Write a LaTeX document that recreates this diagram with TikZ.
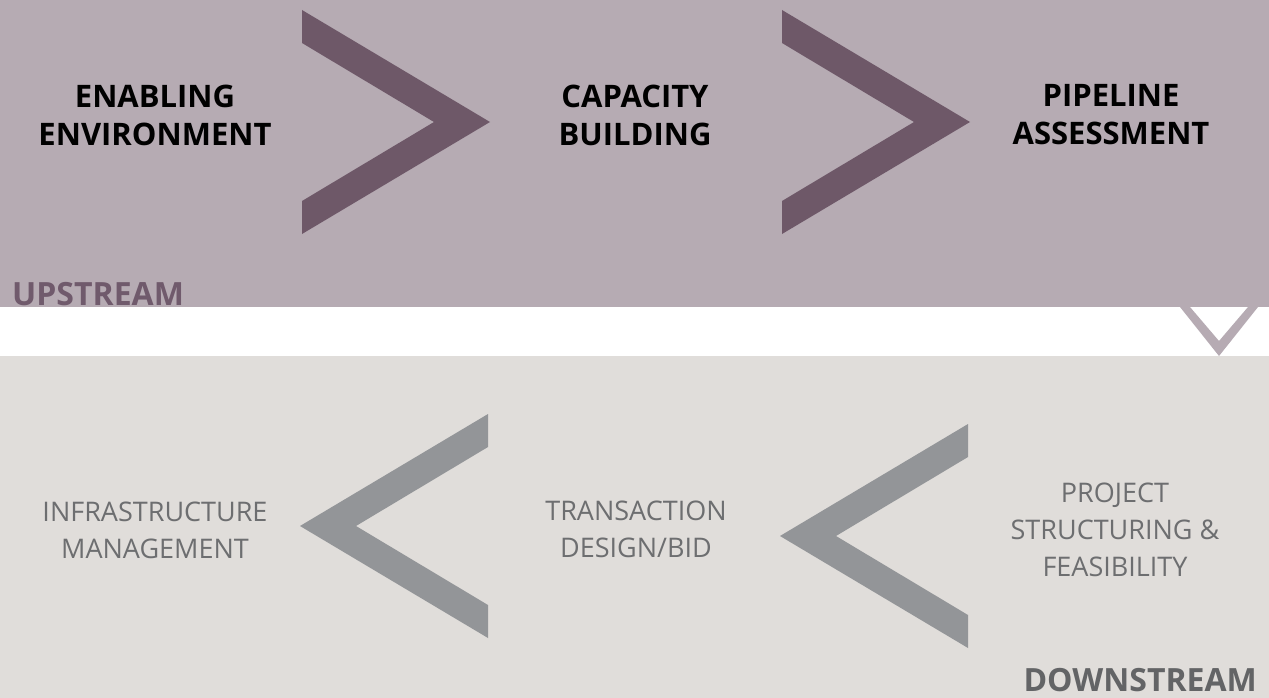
\documentclass[tikz,border=0pt]{standalone}
\usepackage{fontspec}
\setmainfont{Open Sans}

\definecolor{upband}{HTML}{B6ABB3}
\definecolor{downband}{HTML}{E0DDDA}
\definecolor{upchev}{HTML}{6E5868}
\definecolor{downchev}{HTML}{939598}
\definecolor{downtext}{HTML}{6D6E70}
\definecolor{uplabel}{HTML}{705A6C}
\definecolor{downlabel}{HTML}{636466}

\begin{document}
\begin{tikzpicture}[x=1pt,y=-1pt,
    upstep/.style={align=center,inner sep=0pt,font=\fontsize{31}{38}\selectfont\bfseries,text=black},
    downstep/.style={align=center,inner sep=0pt,font=\fontsize{27}{37}\selectfont,text=downtext},
    streamlabel/.style={inner sep=0pt,font=\fontsize{32}{38}\selectfont\bfseries}]
        % Bands
        \useasboundingbox (0,0) rectangle (1269,698);
        \fill[white] (0,0) rectangle (1269,698);
        \fill[upband] (0,0) rectangle (1269,307);
        \fill[downband] (0,356) rectangle (1269,698);
        % Chevrons pointing right
        \foreach \x in {302,782} {
            \fill[upchev] (\x,10) -- (\x+188,122) -- (\x,234) -- (\x,201) -- (\x+132,122) -- (\x,43) -- cycle;
        }
        % Chevrons pointing left
        \foreach \x/\y in {300/526,780/536} {
            \fill[downchev] (\x,\y) -- (\x+188,\y-112) -- (\x+188,\y-79) -- (\x+56,\y) -- (\x+188,\y+79) -- (\x+188,\y+112) -- cycle;
        }
        % Turn down between the streams
        \fill[upband] (1180,307) -- (1219,356) -- (1258,307) -- (1248,307) -- (1219,341) -- (1190,307) -- cycle;
        % Upstream steps
        \node[upstep] (enabling) at (155,115) {ENABLING\\ENVIRONMENT};
        \node[upstep] (capacity) at (635,115) {CAPACITY\\BUILDING};
        \node[upstep] (pipeline) at (1111,115) {PIPELINE\\ASSESSMENT};
        % Downstream steps
        \node[downstep] (infra) at (155,530) {INFRASTRUCTURE\\MANAGEMENT};
        \node[downstep] (transaction) at (636,529) {TRANSACTION\\DESIGN/BID};
        \node[downstep] (project) at (1115,530) {PROJECT\\STRUCTURING \&\\FEASIBILITY};
        % Stream labels
        \node[streamlabel,text=uplabel,anchor=base west] (upstream) at (12,305) {UPSTREAM};
        \node[streamlabel,text=downlabel,anchor=base east] (downstream) at (1257,691) {DOWNSTREAM};
\end{tikzpicture}
\end{document}
